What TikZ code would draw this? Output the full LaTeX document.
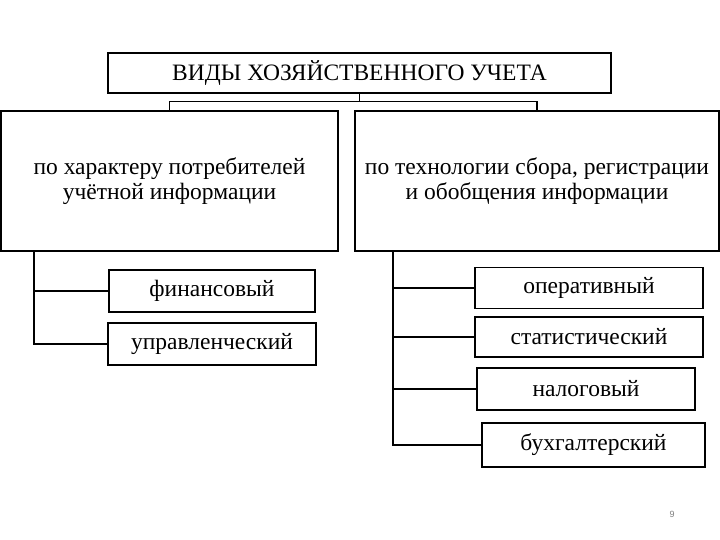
\documentclass[tikz,border=0pt]{standalone}
\usepackage{fontspec}
\setmainfont{Liberation Serif}
\setsansfont{Liberation Sans}
\usepackage{tikz}
\usetikzlibrary{calc}

\begin{document}
\begin{tikzpicture}[x=1pt, y=-1pt,
	    line width=1.4pt,
	    box/.style={draw, rectangle, inner sep=0pt, align=center,
	      font=\fontsize{23.5}{24.5}\selectfont},
	    link/.style={line width=1.4pt}
	  ]
	  \useasboundingbox (0,0) rectangle (720,540);

	  \node[box, minimum width=503pt, minimum height=40pt] (vid) at (359.5,73) {ВИДЫ ХОЗЯЙСТВЕННОГО УЧЕТА};

	  \node[box, minimum width=337pt, minimum height=140pt] (potr) at (169.5,181)
	    {по характеру потребителей\\учётной информации};
	  \node[box, minimum width=364pt, minimum height=140pt] (tech) at (537,181)
	    {по технологии сбора, регистрации\\и обобщения информации};

	  \node[box, minimum width=206pt, minimum height=42pt] (fin) at (212,291) {финансовый};
	  \node[box, minimum width=208pt, minimum height=42pt] (upr) at (212,344) {управленческий};

	  \node[box, minimum width=228pt, minimum height=41pt] (oper) at (589,288) {оперативный};
	  \node[box, minimum width=228pt, minimum height=40pt] (stat) at (589,337) {статистический};
	  \node[box, minimum width=218pt, minimum height=42pt] (nalog) at (586,389) {налоговый};
	  \node[box, minimum width=223pt, minimum height=44pt] (buh) at (593.5,445) {бухгалтерский};

	  \coordinate (fork) at ($(vid.south)+(0,8)$); % split under the title
	  \coordinate (ltrunk) at (34,251);             % left trunk top
	  \coordinate (rtrunk) at (393,251);            % right trunk top

	  \draw[link] (vid.south) -- (fork) -| (potr.north);
	  \draw[link] (fork) -| (tech.north);

	  \draw[link] (ltrunk) |- (upr.west);
	  \draw[link] (ltrunk |- fin.west) -- (fin.west);

	  \draw[link] (rtrunk) |- (buh.west);
	  \foreach \n in {oper,stat,nalog} \draw[link] (rtrunk |- \n.west) -- (\n.west);

	  \node[font=\sffamily\fontsize{9}{10}\selectfont, text=gray] (pnum) at (672,514) {9};
	\end{tikzpicture}
\end{document}
